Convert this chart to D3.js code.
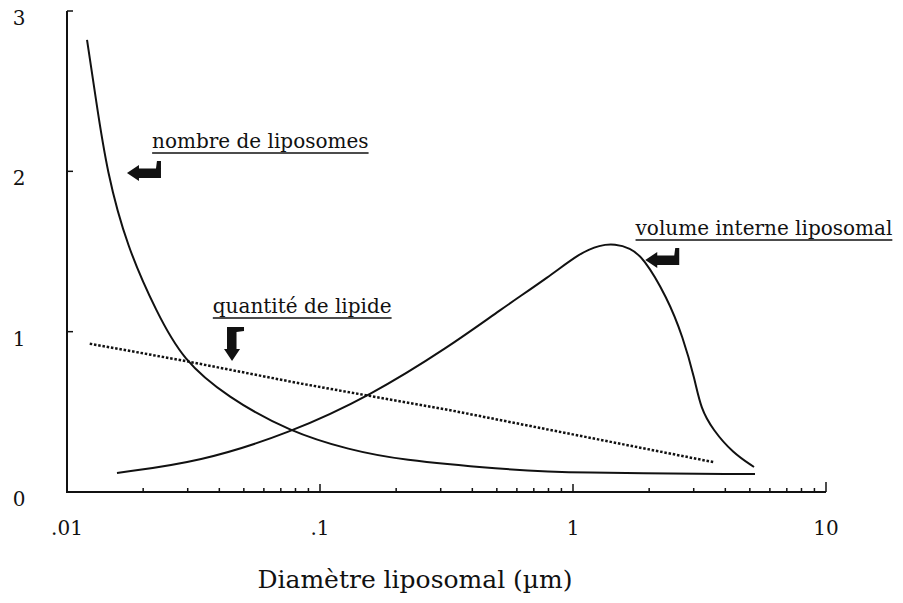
<!DOCTYPE html>
<html>
<head>
<meta charset="utf-8">
<script src="https://cdn.jsdelivr.net/npm/d3@7"></script>
<style>
  html, body { margin: 0; padding: 0; background: #fff; }
  svg { display: block; }
  text { font-family: "DejaVu Serif", "Liberation Serif", serif; fill: #111; }
</style>
</head>
<body>
<svg id="chart" width="903" height="603"></svg>
<script>
// diameters in µm, values in arbitrary units
const nombreDiam = [0.012, 0.01302, 0.01438, 0.01727, 0.02269, 0.02874, 0.0429, 0.0761, 0.1314, 0.207, 0.514, 0.991, 5.24];
const nombreVal = [2.82, 2.445, 1.996, 1.528, 1.116, 0.823, 0.593, 0.375, 0.262, 0.2, 0.143, 0.118, 0.112];

const volumeDiam = [0.01576, 0.03356, 0.0761, 0.1576, 0.3265, 0.514, 0.8111, 1.066, 1.279, 1.466, 1.68, 1.891, 2.352, 2.722, 3.034, 3.2, 3.575, 4.287, 5.194];
const volumeVal = [0.119, 0.187, 0.368, 0.599, 0.91, 1.135, 1.347, 1.491, 1.541, 1.547, 1.522, 1.466, 1.216, 0.967, 0.699, 0.52, 0.387, 0.243, 0.156];

const lipideDiam = [0.0123, 0.0287, 0.0834, 0.327, 3.6];
const lipideVal = [0.925, 0.82, 0.677, 0.51, 0.186];

const xTickValues = [0.01, 0.1, 1, 10];
const xTickLabels = [".01", ".1", "1", "10"];
const yTickValues = [0, 1, 2, 3];
const yTickLabels = ["0", "1", "2", "3"];

const xTitle = "Diamètre liposomal (µm)";

const svg = d3.select("#chart");

const x = d3.scaleLog().domain([0.01, 10]).range([67, 826]);
const y = d3.scaleLinear().domain([0, 3]).range([492, 11]);

const ink = "#111";

// axes
svg.append("line")
  .attr("x1", x(0.01)).attr("x2", x(0.01))
  .attr("y1", y(0)).attr("y2", y(3))
  .attr("stroke", ink).attr("stroke-width", 2);

svg.append("line")
  .attr("x1", x(0.01) - 1).attr("x2", x(10))
  .attr("y1", y(0)).attr("y2", y(0))
  .attr("stroke", ink).attr("stroke-width", 2);

// y ticks
svg.append("g")
  .selectAll("line")
  .data(yTickValues.filter((v) => v > 0))
  .enter()
  .append("line")
  .attr("x1", x(0.01)).attr("x2", x(0.01) + 6)
  .attr("y1", (d) => y(d)).attr("y2", (d) => y(d))
  .attr("stroke", ink).attr("stroke-width", 1.5);

svg.append("g")
  .selectAll("text")
  .data(yTickValues)
  .enter()
  .append("text")
  .attr("x", 19)
  .attr("y", (d) => y(d) + 14)
  .attr("text-anchor", "middle")
  .attr("font-size", 20)
  .text((d, i) => yTickLabels[i]);

// x ticks: minor 2..9 per decade, major at decades
const minorTicks = [];
[0.01, 0.1, 1].forEach((dec) => {
  for (let k = 2; k <= 9; k++) minorTicks.push(dec * k);
});

svg.append("g")
  .selectAll("line")
  .data(minorTicks)
  .enter()
  .append("line")
  .attr("x1", (d) => x(d)).attr("x2", (d) => x(d))
  .attr("y1", y(0)).attr("y2", y(0) - 4)
  .attr("stroke", ink).attr("stroke-width", 1.5);

svg.append("g")
  .selectAll("line")
  .data(xTickValues.slice(1))
  .enter()
  .append("line")
  .attr("x1", (d) => x(d)).attr("x2", (d) => x(d))
  .attr("y1", y(0)).attr("y2", (d) => y(0) - (d === 10 ? 10 : 8))
  .attr("stroke", ink).attr("stroke-width", 1.5);

svg.append("g")
  .selectAll("text")
  .data(xTickValues)
  .enter()
  .append("text")
  .attr("x", (d) => x(d))
  .attr("y", 535)
  .attr("text-anchor", "middle")
  .attr("font-size", 20)
  .text((d, i) => xTickLabels[i]);

svg.append("text")
  .attr("x", 415)
  .attr("y", 588)
  .attr("text-anchor", "middle")
  .attr("font-size", 25)
  .text(xTitle);

// curves
const line = d3.line()
  .x((d) => x(d[0]))
  .y((d) => y(d[1]))
  .curve(d3.curveBasis);

const zip = (a, b) => a.map((v, i) => [v, b[i]]);

svg.append("path")
  .datum(zip(nombreDiam, nombreVal))
  .attr("fill", "none")
  .attr("stroke", ink)
  .attr("stroke-width", 2)
  .attr("d", line);

svg.append("path")
  .datum(zip(volumeDiam, volumeVal))
  .attr("fill", "none")
  .attr("stroke", ink)
  .attr("stroke-width", 2)
  .attr("d", line);

svg.append("path")
  .datum(zip(lipideDiam, lipideVal))
  .attr("fill", "none")
  .attr("stroke", ink)
  .attr("stroke-width", 2.5)
  .attr("stroke-dasharray", "2.5,1.8")
  .attr("d", d3.line().x((d) => x(d[0])).y((d) => y(d[1])));

// annotations: label anchor and arrow tip, in data coordinates
const annotations = [
  { text: "nombre de liposomes", lx: 0.0217, ly: 2.146, ax: 0.01726, ay: 1.99, dir: "left" },
  { text: "quantité de lipide", lx: 0.0377, ly: 1.117, ax: 0.0449, ay: 0.817, dir: "down" },
  { text: "volume interne liposomal", lx: 1.767, ly: 1.603, ax: 1.93, ay: 1.447, dir: "left" },
];

const arrowPath = "M0,0 L12,-8 L12,-4.5 L29,-4.5 L30,-12 L34,-12 L34,5 L12,5 L12,8 Z";

annotations.forEach((a) => {
  const t = svg.append("text")
    .attr("x", x(a.lx))
    .attr("y", y(a.ly))
    .attr("font-size", 20)
    .text(a.text);
  const w = t.node().getComputedTextLength();
  svg.append("line")
    .attr("x1", x(a.lx)).attr("x2", x(a.lx) + w)
    .attr("y1", y(a.ly) + 5).attr("y2", y(a.ly) + 5)
    .attr("stroke", ink).attr("stroke-width", 1.5);

  const rot = a.dir === "down" ? " rotate(-90) scale(1,-1)" : "";
  svg.append("path")
    .attr("d", arrowPath)
    .attr("fill", ink)
    .attr("transform", `translate(${x(a.ax)},${y(a.ay)})${rot}`);
});
</script>
</body>
</html>
